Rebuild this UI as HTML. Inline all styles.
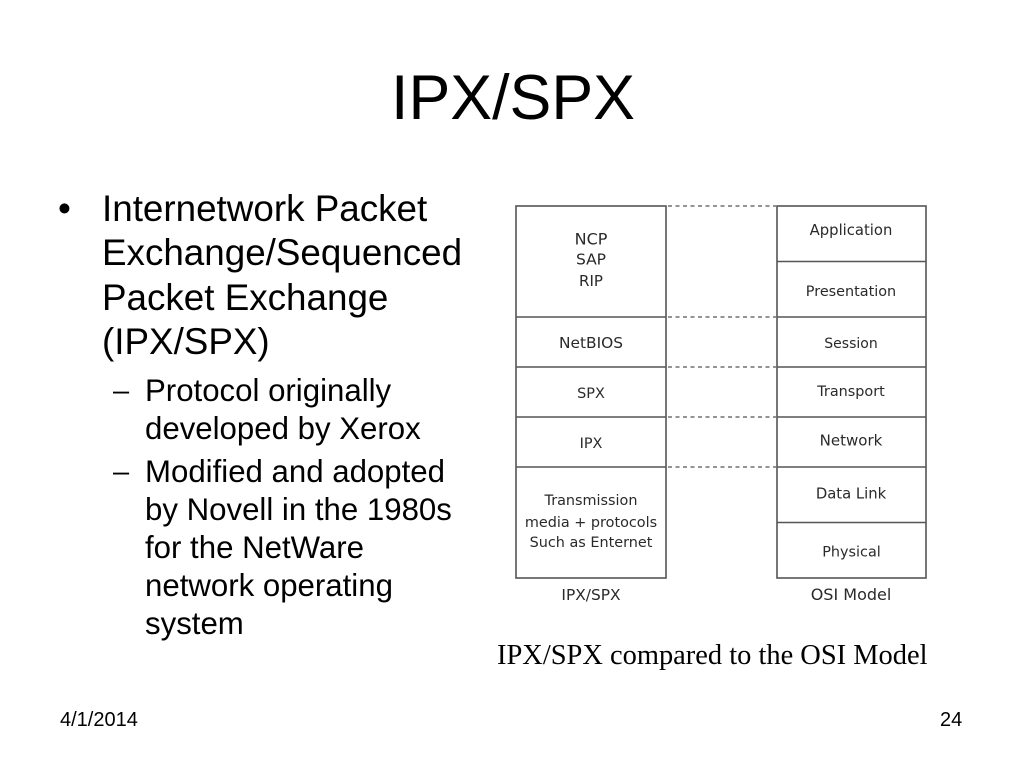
<!DOCTYPE html>
<html>
<head>
<meta charset="utf-8">
<style>
html,body{margin:0;padding:0;background:#fff}
#p{position:relative;width:1024px;height:768px;overflow:hidden;background:#fff;font-family:"Liberation Sans",sans-serif;color:#000}
.t{position:absolute;white-space:nowrap}
.a{font-size:36.8px;line-height:44.4px}
.b{font-size:31.2px;line-height:38px}
svg{position:absolute;left:0;top:0}
svg text{font-family:"DejaVu Sans","Liberation Sans",sans-serif;font-size:14.4px;fill:#2a2a2a;text-anchor:middle}
</style>
</head>
<body>
<div id="p">
<div class="t" style="left:1px;width:1024px;text-align:center;top:61px;font-size:62.7px;line-height:74px">IPX/SPX</div>
<div class="t a" style="left:58px;top:187px">•</div>
<div class="t a" style="left:102px;top:187px">Internetwork Packet<br>Exchange/Sequenced<br>Packet Exchange<br>(IPX/SPX)</div>
<div class="t b" style="left:113px;top:372px;font-size:29px">–</div>
<div class="t b" style="left:145px;top:372px">Protocol originally<br>developed by Xerox</div>
<div class="t b" style="left:113px;top:453px;font-size:29px">–</div>
<div class="t b" style="left:145px;top:453px">Modified and adopted<br>by Novell in the 1980s<br>for the NetWare<br>network operating<br>system</div>
<div class="t" style="left:497px;top:641px;font-family:'Liberation Serif',serif;font-size:28.45px;line-height:30px">IPX/SPX compared to the OSI Model</div>
<div class="t" style="left:60px;top:709px;font-size:20px;line-height:22px">4/1/2014</div>
<div class="t" style="left:940px;top:709px;font-size:20px;line-height:22px">24</div>
<svg width="1024" height="768" viewBox="0 0 1024 768">
<g fill="none" stroke="#555" stroke-width="1.6">
<rect x="516" y="206" width="150" height="372"/>
<rect x="777" y="206" width="149" height="372"/>
<path d="M516 317H666M516 367H666M516 417H666M516 467H666"/>
<path d="M777 261.500H926M777 317H926M777 367H926M777 417H926M777 467H926M777 522.500H926"/>
<path stroke-dasharray="4 3.500" stroke-width="1.300" d="M668 206H776M668 317H776M668 367H776M668 417H776M668 467H776"/>
</g>
<text x="591" y="244.500" style="font-size:16px">NCP</text>
<text x="591" y="264.500" style="font-size:15.500px">SAP</text>
<text x="591" y="286" style="font-size:15px">RIP</text>
<text x="591" y="348" style="font-size:15.400px">NetBIOS</text>
<text x="591" y="398">SPX</text>
<text x="591" y="448">IPX</text>
<text x="591" y="505">Transmission</text>
<text x="591" y="527">media + protocols</text>
<text x="591" y="547">Such as Enternet</text>
<text x="591" y="600" style="font-size:15.400px">IPX/SPX</text>
<text x="851" y="235" style="font-size:14.800px">Application</text>
<text x="851" y="296">Presentation</text>
<text x="851" y="348" style="font-size:14px">Session</text>
<text x="851" y="396">Transport</text>
<text x="851" y="445.500" style="font-size:15px">Network</text>
<text x="851" y="498.500" style="font-size:14.800px">Data Link</text>
<text x="851.500" y="556.500">Physical</text>
<text x="851" y="600" style="font-size:16px">OSI Model</text>
</svg>
</div>
</body>
</html>
